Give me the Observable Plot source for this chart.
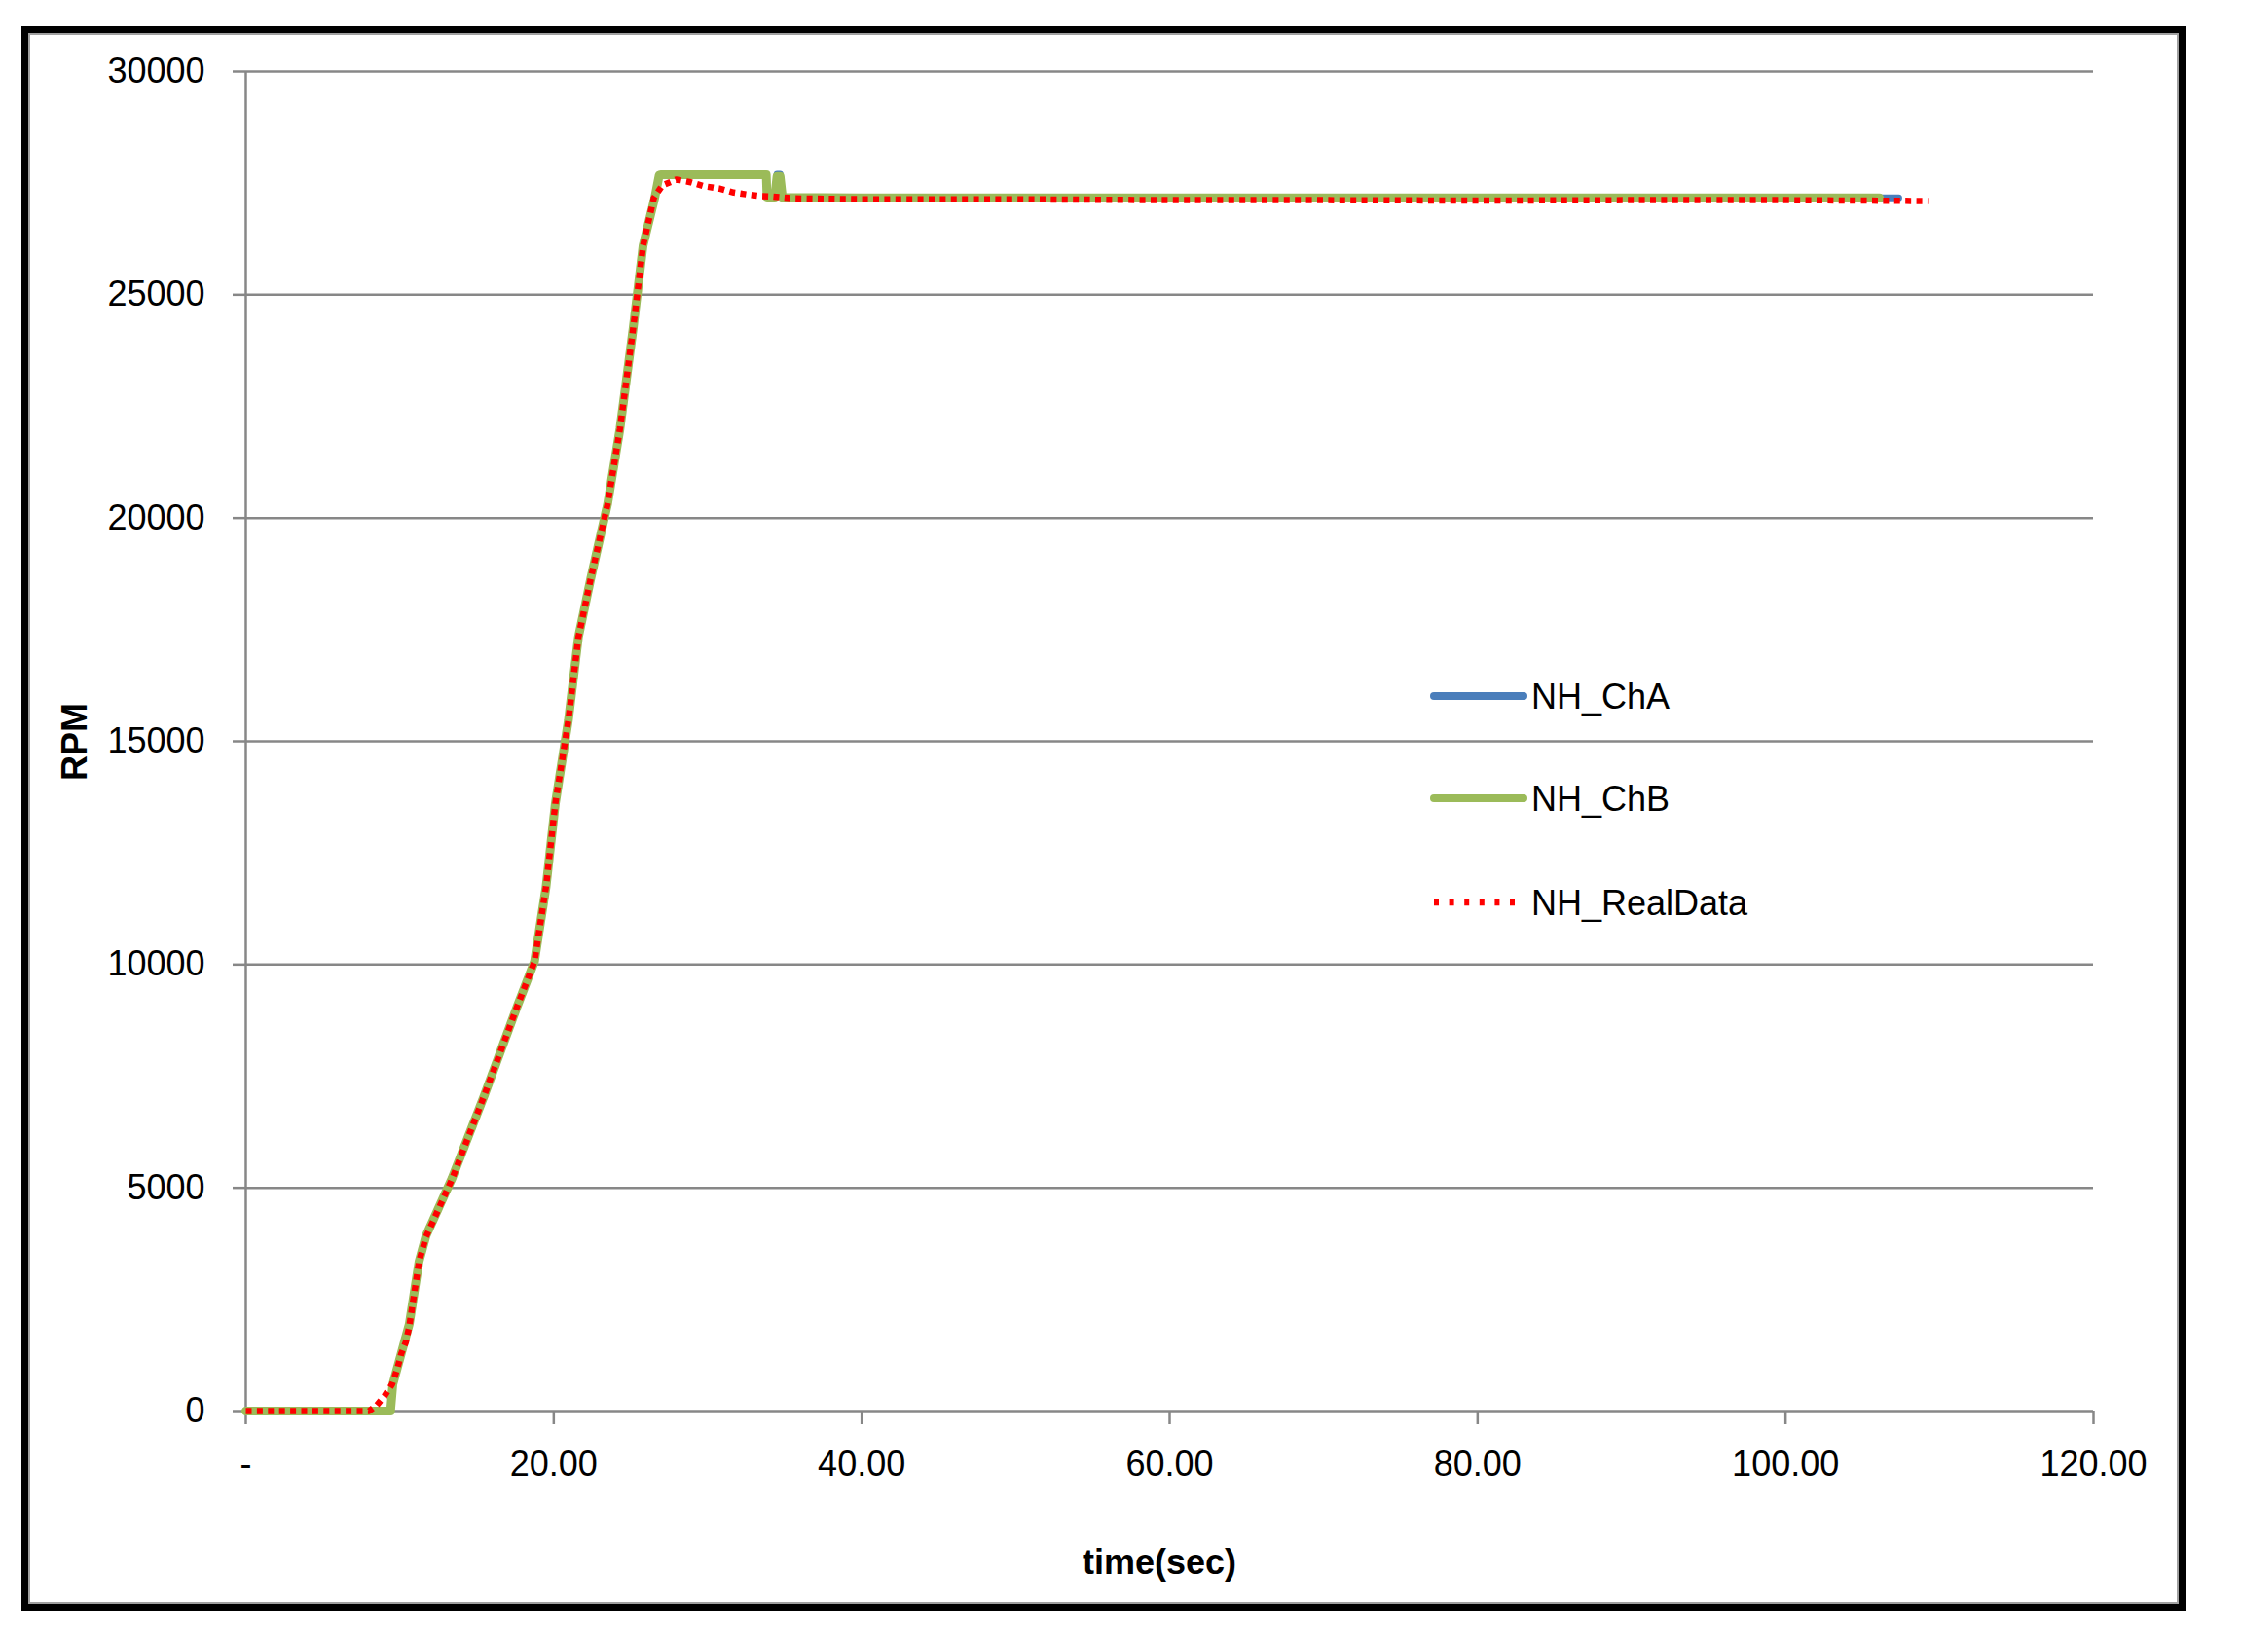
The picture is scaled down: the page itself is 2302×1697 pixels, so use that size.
<!DOCTYPE html>
<html>
<head>
<meta charset="utf-8">
<script src="https://cdn.jsdelivr.net/npm/d3@7"></script>
<script src="https://cdn.jsdelivr.net/npm/@observablehq/plot@0.6"></script>
<style>
  html, body { margin: 0; padding: 0; background: #fff; }
  #wrap { position: relative; width: 2302px; height: 1697px; overflow: hidden; font-family: "Liberation Sans", Arial, sans-serif; }
  #frame { position: absolute; left: 22px; top: 27px; width: 2223px; height: 1628px; box-sizing: border-box;
           border: 7px solid #000; box-shadow: inset 0 0 0 2px #a0a0a0; pointer-events: none; }
  #chart { position: absolute; left: 0; top: 0; }
  .title { position: absolute; font-weight: bold; font-size: 36px; color: #000; white-space: nowrap; }
  #ytitle { left: 77px; top: 762px; transform: translate(-50%, -50%) rotate(-90deg); }
  #xtitle { left: 1191px; top: 1605px; transform: translate(-50%, -50%); }
  #legend { position: absolute; left: 0; top: 0; }
</style>
</head>
<body>
<div id="wrap">
  <div id="chart"></div>
  <div id="ytitle" class="title">RPM</div>
  <div id="xtitle" class="title">time(sec)</div>
  <svg id="legend" width="2302" height="1697"></svg>
  <div id="frame"></div>
</div>
<script>
// ---- Data ----
const seriesNames = ["NH_ChA", "NH_ChB", "NH_RealData"];

const xTicks = [0, 20, 40, 60, 80, 100, 120];
const yTicks = [0, 5000, 10000, 15000, 20000, 25000, 30000];

// NH_ChA (blue) — mostly hidden under ChB, runs slightly longer
const chA_t = [0, 9.4, 9.55, 10.62, 11.25, 11.7, 13.4, 15.5, 17.6, 18.75, 19.5, 20.1, 20.95, 21.6, 22.4, 23.5, 24.3, 25.15, 25.8, 26.55, 26.85, 27.0, 33.8, 33.85, 34.35, 34.5, 34.7, 34.85, 40, 50, 60, 70, 80, 90, 100, 107.35];
const chA_v = [0, 0, 600, 1950, 3350, 3920, 5220, 7080, 9040, 10070, 11740, 13600, 15470, 17330, 18640, 20320, 22000, 24230, 26100, 27160, 27680, 27690, 27690, 27190, 27190, 27700, 27700, 27180, 27170, 27170, 27170, 27170, 27170, 27170, 27170, 27170];

// NH_ChB (green)
const chB_t = [0, 9.4, 9.55, 10.62, 11.25, 11.7, 13.4, 15.5, 17.6, 18.75, 19.5, 20.1, 20.95, 21.6, 22.4, 23.5, 24.3, 25.15, 25.8, 26.55, 26.85, 27.0, 33.8, 33.85, 34.35, 34.5, 34.7, 34.85, 40, 50, 60, 70, 80, 90, 100, 106.1];
const chB_v = [0, 0, 600, 1950, 3350, 3920, 5220, 7080, 9040, 10070, 11740, 13600, 15470, 17330, 18640, 20320, 22000, 24230, 26100, 27160, 27680, 27690, 27690, 27190, 27190, 27650, 27650, 27180, 27170, 27170, 27170, 27170, 27170, 27170, 27170, 27170];

// NH_RealData (red dotted)
const real_t = [0, 8.0, 8.5, 9.0, 9.5, 9.85, 10.1, 10.4, 10.62, 11.25, 11.7, 13.4, 15.5, 17.6, 18.75, 19.5, 20.1, 20.95, 21.6, 22.4, 23.5, 24.3, 25.15, 25.8, 26.5, 27.05, 27.95, 28.9, 29.8, 30.75, 31.7, 32.5, 33.4, 34.2, 35.5, 40, 50, 60, 70, 80, 90, 100, 105, 109.25];
const real_v = [0, 0, 130, 330, 600, 960, 1290, 1550, 1900, 3350, 3900, 5200, 7080, 9040, 10070, 11750, 13600, 15470, 17330, 18640, 20320, 22000, 24230, 26100, 27170, 27450, 27580, 27520, 27430, 27380, 27290, 27250, 27210, 27200, 27160, 27140, 27140, 27120, 27120, 27110, 27120, 27120, 27110, 27100];

// ---- Build tables ----
const toRows = (ts, vs) => ts.map((t, i) => ({t, v: vs[i]}));
const chA = toRows(chA_t, chA_v);
const chB = toRows(chB_t, chB_v);
const real = toRows(real_t, real_v);

const gridColor = "#878787";
const colors = {"NH_ChA": "#4a7ebb", "NH_ChB": "#9bbb59", "NH_RealData": "#ff0000"};

const chart = Plot.plot({
  width: 2302,
  height: 1697,
  marginLeft: 252,
  marginRight: 152,
  marginTop: 73,
  marginBottom: 248,
  style: {fontFamily: "'Liberation Sans', Arial, sans-serif", fontSize: "36px", color: "#000", background: "transparent", overflow: "visible"},
  x: {domain: [0, 120]},
  y: {domain: [0, 30000]},
  marks: [
    Plot.gridY(yTicks, {stroke: gridColor, strokeOpacity: 1, strokeWidth: 2.5}),
    Plot.ruleX([0], {stroke: gridColor, strokeWidth: 2.5}),
    Plot.axisY(yTicks, {tickSize: 13, tickPadding: 29, stroke: gridColor, strokeWidth: 2.5, fill: "#000",
      tickFormat: d => String(d), label: null, fontSize: 36}),
    Plot.axisX(xTicks, {tickSize: 14, tickPadding: 27, stroke: gridColor, strokeWidth: 2.5, fill: "#000",
      tickFormat: d => d === 0 ? "-" : d.toFixed(2), label: null, fontSize: 36}),
    Plot.line(chA, {x: "t", y: "v", stroke: colors["NH_ChA"], strokeWidth: 7}),
    Plot.line(chB, {x: "t", y: "v", stroke: colors["NH_ChB"], strokeWidth: 9}),
    Plot.line(real, {x: "t", y: "v", stroke: colors["NH_RealData"], strokeWidth: 6.5, strokeDasharray: "6,5.4", strokeLinecap: "butt"})
  ]
});
document.getElementById("chart").appendChild(chart);

// ---- Legend (inside the plot area) ----
const leg = d3.select("#legend");
const legX0 = 1473, legX1 = 1565, legTextX = 1573;
const legY = [715, 820, 927];
seriesNames.forEach((name, i) => {
  const g = leg.append("g");
  const line = g.append("line")
    .attr("x1", legX0).attr("x2", legX1)
    .attr("y1", legY[i]).attr("y2", legY[i])
    .attr("stroke", colors[name]);
  if (name === "NH_RealData") {
    line.attr("stroke-width", 6.5).attr("stroke-dasharray", "5,10.6").attr("x2", legX1 - 8);
  } else {
    line.attr("stroke-width", 8).attr("stroke-linecap", "round");
  }
  g.append("text")
    .attr("x", legTextX).attr("y", legY[i] + 13)
    .attr("font-family", "'Liberation Sans', Arial, sans-serif")
    .attr("font-size", 36)
    .attr("fill", "#000")
    .text(name);
});
</script>
</body>
</html>
